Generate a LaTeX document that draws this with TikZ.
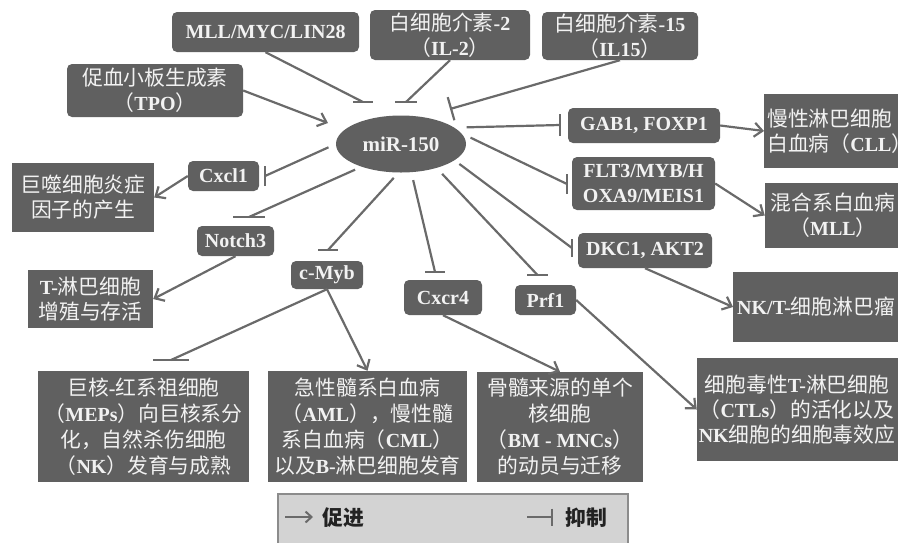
\documentclass[tikz,border=0pt]{standalone}
\usepackage{fontspec}
\setmainfont{Liberation Serif}
\newfontfamily\zhfont{Noto Sans CJK SC}[Scale=1.04]
\newcommand\zh[1]{{\zhfont\mdseries #1}}
\usetikzlibrary{arrows.meta,shapes.geometric}
\definecolor{boxc}{HTML}{606060}
\definecolor{linec}{HTML}{6A6A6A}
\definecolor{txtc}{HTML}{F2F2F2}
\definecolor{legc}{HTML}{D3D3D3}
\definecolor{legb}{HTML}{8C8C8C}
\definecolor{legt}{HTML}{222222}
\begin{document}
\begin{tikzpicture}[x=1pt,y=-1pt,
  base/.style={fill=boxc, text=txtc, inner sep=0pt, align=center, font=\bfseries\fontsize{20}{25}\selectfont},
  gene/.style={base, rounded corners=5pt},
  outbox/.style={base},
  lines26/.style={font=\bfseries\fontsize{20}{26}\selectfont},
  link/.style={draw=linec, line width=2.2pt},
  arr/.style={link, -{Straight Barb[length=8pt,width=14pt]}},
  legtext/.style={text=legt, inner sep=0pt, font=\fontsize{20}{24}\selectfont\zhfont\bfseries}
  ]
\useasboundingbox (0,0) rectangle (898,542);

% regulator / target boxes
\node[gene, minimum width=187pt, minimum height=40pt] (mll) at (265.5,32) {MLL/MYC/LIN28};
\node[gene, minimum width=160pt, minimum height=50pt] (il2) at (450,35) {\zh{白细胞介素}-2\\\zh{（}IL-2\zh{）}};
\node[gene, minimum width=156pt, minimum height=48pt] (il15) at (620,36) {\zh{白细胞介素}-15\\\zh{（}IL15\zh{）}};
\node[gene, minimum width=176pt, minimum height=53pt] (tpo) at (155,90.5) {\zh{促血小板生成素}\\\zh{（}TPO\zh{）}};
\node[ellipse, fill=boxc, text=txtc, minimum width=130pt, minimum height=57pt, inner sep=0pt, font=\bfseries\fontsize{21}{24}\selectfont] (mir) at (401,144) {miR-150};
\node[gene, minimum width=71pt, minimum height=30pt] (cxcl1) at (223.5,176) {Cxcl1};
\node[gene, minimum width=77pt, minimum height=30pt] (notch3) at (235.5,241) {Notch3};
\node[gene, minimum width=72pt, minimum height=28pt] (cmyb) at (327,275) {c-Myb};
\node[gene, minimum width=78pt, minimum height=35pt] (cxcr4) at (443,297.5) {Cxcr4};
\node[gene, minimum width=61pt, minimum height=30pt] (prf1) at (545.5,300) {Prf1};
\node[gene, minimum width=152pt, minimum height=35pt] (gab1) at (644,125.5) {GAB1, FOXP1};
\node[gene, minimum width=143pt, minimum height=53pt] (flt3) at (643.5,183.5) {FLT3/MYB/H\\OXA9/MEIS1};
\node[gene, minimum width=134pt, minimum height=35pt] (dkc1) at (645,250.5) {DKC1, AKT2};

% outcome boxes
\node[outbox, minimum width=142pt, minimum height=69pt] (mac) at (83,197.5) {\zh{巨噬细胞炎症}\\\zh{因子的产生}};
\node[outbox, minimum width=125pt, minimum height=58pt] (tcell) at (90.5,299) {T-\zh{淋巴细胞}\\\zh{增殖与存活}};
\node[outbox, lines26, minimum width=211pt, minimum height=111pt] (mep) at (143.5,426.5) {\zh{巨核}-\zh{红系祖细胞}\\\zh{（}MEPs\zh{）向巨核系分}\\\zh{化，自然杀伤细胞}\\\zh{（}NK\zh{）发育与成熟}};
\node[outbox, lines26, minimum width=199pt, minimum height=111pt] (aml) at (367.5,426.5) {\zh{急性髓系白血病}\\\zh{（}AML\zh{），慢性髓}\\\zh{系白血病（}CML\zh{）}\\\zh{以及}B-\zh{淋巴细胞发育}};
\node[outbox, lines26, minimum width=166pt, minimum height=110pt] (bm) at (560,427) {\zh{骨髓来源的单个}\\\zh{核细胞}\\\zh{（}BM - MNCs\zh{）}\\\zh{的动员与迁移}};
\node[outbox, anchor=west, align=left, text width=150pt, inner xsep=3pt, minimum height=74pt] (cll) at (764,131) {\zh{慢性淋巴细胞}\\\zh{白血病（}CLL\zh{）}};
\node[outbox, minimum width=136pt, minimum height=65pt] (mllout) at (833,215.5) {\zh{混合系白血病}\\\zh{（}MLL\zh{）}};
\node[outbox, anchor=west, align=left, text width=190pt, inner xsep=4pt, minimum height=70pt] (nkt) at (733,307) {NK/T-\zh{细胞淋巴瘤}};
\node[outbox, text width=200pt, minimum height=103pt] (ctl) at (797,409.5) {\zh{细胞毒性}T-\zh{淋巴细胞}\\\zh{（}CTLs\zh{）的活化以及}\\NK\zh{细胞的细胞毒效应}};
\fill[boxc] (ctl.north east) rectangle ([xshift=20pt]ctl.south east);

% inhibition bar positions
\coordinate (bmll) at (363,102);
\coordinate (bil2) at (406,102);
\coordinate (bil15) at (450,109);
\coordinate (bcx1) at (265,176);
\coordinate (bn3) at (249,217);
\coordinate (bmyb) at (328,250);
\coordinate (bcx4) at (435,272);
\coordinate (bprf) at (537.5,275);
\coordinate (bgab) at (560,125);
\coordinate (bflt) at (567,184);
\coordinate (bdkc) at (572,248);
\coordinate (bmep) at (171,360);
\coordinate (ttpo) at (328,123);

% into miR-150
\draw[link] (mll.south) -- (bmll);
\draw[link] ([xshift=-10pt]bmll) -- ([xshift=10pt]bmll);
\draw[link] (il2.south) -- (bil2);
\draw[link] ([xshift=-11pt]bil2) -- ([xshift=11pt]bil2);
\draw[link, -{Bar[width=24pt]}] (il15.south) -- (bil15);
\draw[arr] (tpo.east) -- (ttpo);

% out of miR-150
\draw[link, shorten <=8pt] (mir.west) -- (bcx1);
\draw[link] ([yshift=-10pt]bcx1) -- ([yshift=10pt]bcx1);
\draw[link, shorten <=7pt] (mir.210) -- (bn3);
\draw[link] ([xshift=-16pt]bn3) -- ([xshift=16pt]bn3);
\draw[link, shorten <=7pt] (mir.265) -- (bmyb);
\draw[link] ([xshift=-10pt]bmyb) -- ([xshift=10pt]bmyb);
\draw[link, shorten <=8pt] (mir.290) -- (bcx4);
\draw[link] ([xshift=-10pt]bcx4) -- ([xshift=10pt]bcx4);
\draw[link, shorten <=8pt] (mir.326) -- (bprf);
\draw[link] ([xshift=-10.5pt]bprf) -- ([xshift=10.5pt]bprf);
\draw[link, shorten <=12pt] (mir.17) -- (bgab);
\draw[link] ([yshift=-11pt]bgab) -- ([yshift=11pt]bgab);
\draw[link, shorten <=10pt] (mir.10) -- (bflt);
\draw[link] ([yshift=-10pt]bflt) -- ([yshift=10pt]bflt);
\draw[link, shorten <=6pt] (mir.343) -- (bdkc);
\draw[link] ([yshift=-9pt]bdkc) -- ([yshift=9pt]bdkc);

% targets to outcomes
\draw[arr] (cxcl1.west) -- (mac.east);
\draw[arr] (notch3.south) -- (tcell.east);
\draw[link] (cmyb.south) -- (bmep);
\draw[link] ([xshift=-18pt]bmep) -- ([xshift=18pt]bmep);
\draw[arr] (cmyb.south) -- (aml.north);
\draw[arr] (cxcr4.south) -- (bm.north);
\draw[arr] (prf1.east) -- (ctl.west);
\draw[arr] (gab1.east) -- (cll.west);
\draw[arr] (flt3.east) -- (mllout.west);
\draw[arr] (dkc1.south) -- (nkt.west);

% legend
\node[draw=legb, fill=legc, line width=1.5pt, minimum width=350pt, minimum height=58pt, inner sep=0pt] (leg) at (453,523) {};
\coordinate (la1) at (285,517);
\coordinate (la2) at (313,517);
\draw[link, line width=2pt, -{Straight Barb[length=6pt,width=11pt]}] (la1) -- (la2);
\node[legtext] (lt1) at (343,518) {促进};
\coordinate (lb1) at (527,517);
\coordinate (lb2) at (553,517);
\draw[link, line width=2pt, -{Bar[width=17pt]}] (lb1) -- (lb2);
\node[legtext] (lt2) at (586,518) {抑制};
\end{tikzpicture}
\end{document}
